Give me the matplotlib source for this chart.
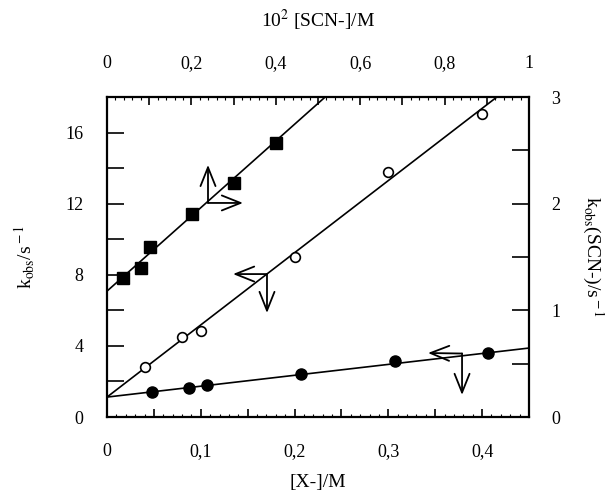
import numpy as np
import matplotlib
matplotlib.use("Agg")
import matplotlib.pyplot as plt
from matplotlib.ticker import MultipleLocator, FuncFormatter

plt.rcParams.update({"font.family": "Liberation Serif", "mathtext.fontset": "stix",
                     "font.size": 13})

# open circles and filled circles: [X-]/M (bottom) vs kobs/s-1 (left)
x_open = [0.04, 0.08, 0.10, 0.20, 0.30, 0.40]
k_open = [2.81, 4.50, 4.84, 9.00, 13.78, 17.04]
x_filled = [0.048, 0.087, 0.107, 0.207, 0.307, 0.406]
k_filled = [1.41, 1.63, 1.80, 2.42, 3.15, 3.60]
# filled squares: 10^2 [SCN-]/M (top) vs kobs(SCN-)/s-1 (right)
x_scn = [0.038, 0.080, 0.102, 0.201, 0.301, 0.401]
k_scn = [1.30, 1.40, 1.59, 1.90, 2.19, 2.57]

# straight-line fits (intercept, slope)
fit_open = (1.12, 40.6)
fit_filled = (1.12, 6.13)
fit_scn = (1.18, 3.52)


def comma(v, pos):
    s = f"{v:.1f}".rstrip("0").rstrip(".")
    return s.replace(".", ",")


def every_other(v, pos):
    if abs(round(v / 0.1) * 0.1 - v) > 1e-6:
        return ""
    return comma(v, pos)


fig = plt.figure(figsize=(6.05, 5.0), dpi=100)
rect = [107 / 605, 83 / 500, 422 / 605, 320 / 500]
ax = fig.add_axes(rect)
ax2 = fig.add_axes(rect, frameon=False)

# bottom / left axes
xs = np.array([0, 0.45])
ax.plot(xs, fit_open[0] + fit_open[1] * xs, color="k", lw=1.2)
ax.plot(xs, fit_filled[0] + fit_filled[1] * xs, color="k", lw=1.2)
ax.plot(x_open, k_open, "o", mfc="white", mec="k", mew=1.2, ms=7)
ax.plot(x_filled, k_filled, "o", mfc="k", mec="k", ms=8)
ax.set_xlim(0, 0.45)
ax.set_ylim(0, 18)
ax.xaxis.set_major_locator(MultipleLocator(0.05))
ax.xaxis.set_minor_locator(MultipleLocator(0.01))
ax.xaxis.set_major_formatter(FuncFormatter(every_other))
ax.yaxis.set_major_locator(MultipleLocator(2))
ax.yaxis.set_major_formatter(FuncFormatter(lambda v, p: f"{v:.0f}" if v % 4 == 0 else ""))
ax.tick_params(axis="x", which="major", direction="in", length=6, width=1.2, pad=19)
ax.tick_params(axis="x", which="minor", direction="in", length=2, width=0.8)
ax.tick_params(axis="y", which="major", direction="in", length=12, width=1.2, pad=17)
for s in ax.spines.values():
    s.set_linewidth(1.6)
ax.set_xlabel("[X-]/M", fontsize=14, labelpad=10)
ax.set_ylabel(r"k$_{\rm obs}$/s$^{\rm -1}$", fontsize=14, labelpad=20)

# top / right axes
xt = np.array([0, 1])
ax2.plot(xt, fit_scn[0] + fit_scn[1] * xt, color="k", lw=1.2)
ax2.plot(x_scn, k_scn, "s", mfc="k", mec="k", ms=8.5)
ax2.set_xlim(0, 1)
ax2.set_ylim(0, 3)
ax2.xaxis.tick_top()
ax2.yaxis.tick_right()
ax2.xaxis.set_label_position("top")
ax2.yaxis.set_label_position("right")
ax2.xaxis.set_major_locator(MultipleLocator(0.1))
ax2.xaxis.set_minor_locator(MultipleLocator(0.02))
ax2.xaxis.set_major_formatter(FuncFormatter(lambda v, p: comma(v, p) if round(v * 10) % 2 == 0 else ""))
ax2.yaxis.set_major_locator(MultipleLocator(0.5))
ax2.yaxis.set_major_formatter(FuncFormatter(lambda v, p: f"{v:.0f}" if v % 1 == 0 else ""))
ax2.tick_params(axis="x", which="major", direction="in", length=6, width=1.2, pad=18)
ax2.tick_params(axis="x", which="minor", direction="in", length=2, width=0.8)
ax2.tick_params(axis="y", which="major", direction="in", length=12, width=1.2, pad=16)
ax2.set_xlabel(r"10$^{2}$ [SCN-]/M", fontsize=14, labelpad=20)
ax2.set_ylabel(r"k$_{\rm obs}$(SCN-)/s$^{\rm -1}$", fontsize=14, rotation=270, labelpad=32)

# direction arrows (which axes each series belongs to)
arrow = dict(arrowstyle="->,head_length=0.75,head_width=0.3", lw=1.3, color="k",
             shrinkA=0, shrinkB=0, mutation_scale=18)
for corner, tips in [((0.1077, 12.04), [(0.1077, 14.18), (0.145, 12.04)]),
                     ((0.1706, 8.04), [(0.1344, 8.04), (0.1706, 5.85)]),
                     ((0.3786, 3.57), [(0.3423, 3.60), (0.3786, 1.24)])]:
    for tip in tips:
        ax.annotate("", xy=tip, xytext=corner, arrowprops=arrow)

fig.savefig("out.png", dpi=100)
